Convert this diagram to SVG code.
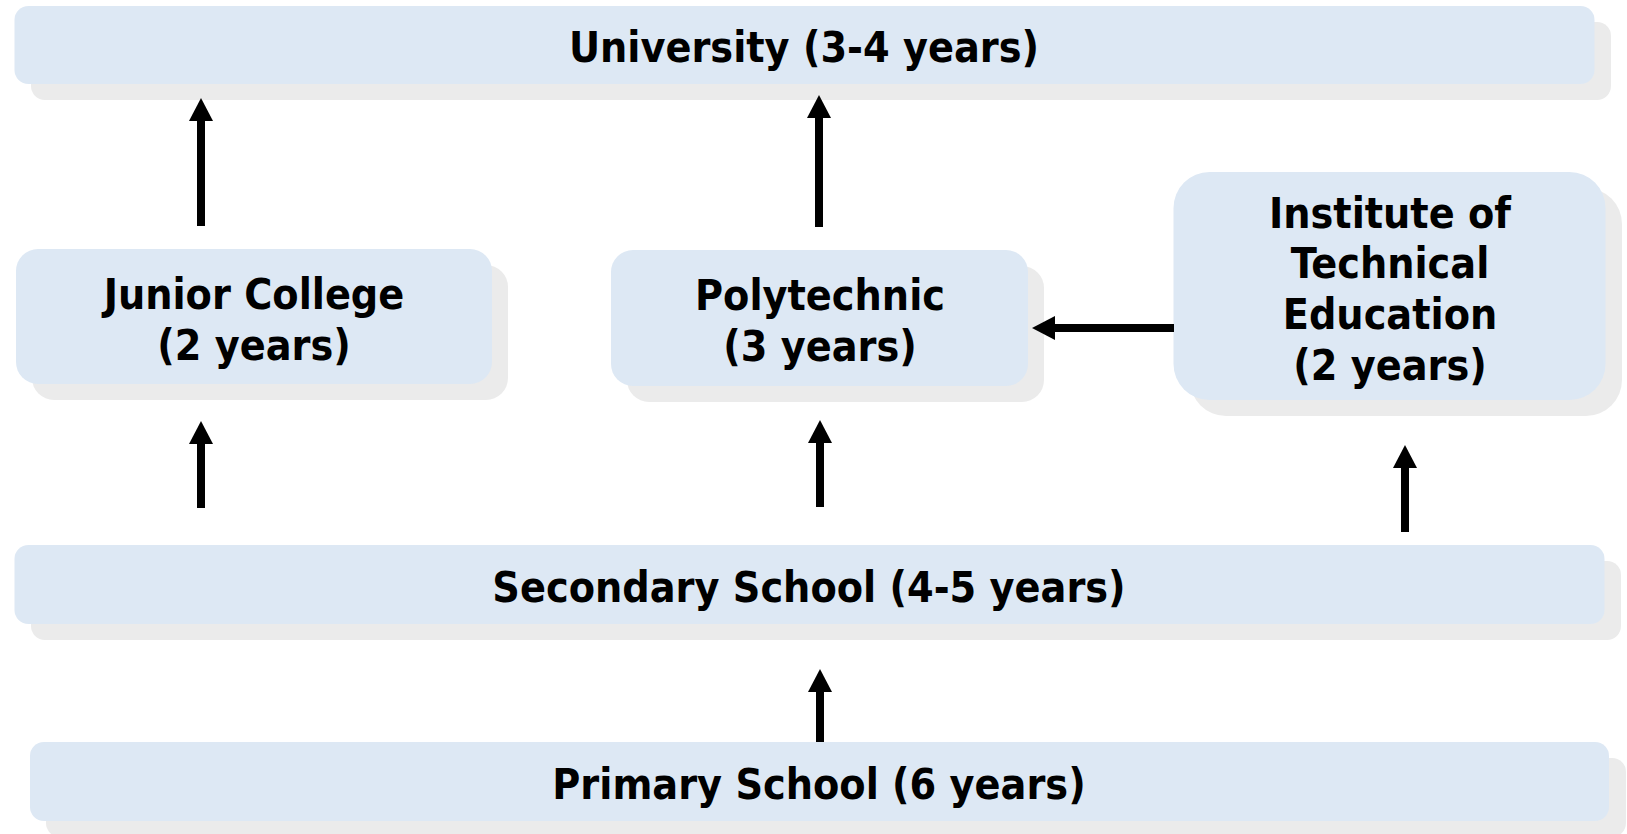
<svg xmlns="http://www.w3.org/2000/svg" width="1627" height="834" viewBox="0 0 1627 834">
<defs>
<style>
.box{fill:#dde8f4}
.sh{fill:#ebebeb}
.t{font-family:"DejaVu Sans Condensed","DejaVu Sans",Tahoma,sans-serif;font-stretch:condensed;font-weight:bold;font-size:42.6px;fill:#000;text-anchor:middle}
.c{stroke:#000;stroke-width:8;fill:none}
</style>
<marker id="ah" markerUnits="userSpaceOnUse" markerWidth="24" markerHeight="24" refX="0" refY="12" orient="auto" viewBox="0 0 24 24">
<path d="M0,0 L23,12 L0,24 z" fill="#000"/>
</marker>
</defs>
<rect width="1627" height="834" fill="#fff"/>
<g id="university">
<rect class="sh" x="31" y="22" width="1580" height="78" rx="14"/>
<rect class="box" x="14.5" y="6" width="1580" height="78" rx="14"/>
<text class="t" x="804" y="62">University (3-4 years)</text>
</g>
<g id="junior-college">
<rect class="sh" x="32" y="265" width="476" height="135" rx="22"/>
<rect class="box" x="16" y="249" width="476" height="135" rx="22"/>
<text class="t" x="254" y="309">Junior College</text>
<text class="t" x="254" y="360">(2 years)</text>
</g>
<g id="polytechnic">
<rect class="sh" x="627" y="266" width="417" height="136" rx="22"/>
<rect class="box" x="611" y="250" width="417" height="136" rx="22"/>
<text class="t" x="820" y="310">Polytechnic</text>
<text class="t" x="820" y="361">(3 years)</text>
</g>
<g id="ite">
<rect class="sh" x="1190" y="188" width="432" height="228" rx="36"/>
<rect class="box" x="1173.5" y="172" width="432" height="228" rx="36"/>
<text class="t" x="1390" y="228">Institute of</text>
<text class="t" x="1390" y="278">Technical</text>
<text class="t" x="1390" y="329">Education</text>
<text class="t" x="1390" y="380">(2 years)</text>
</g>
<g id="secondary">
<rect class="sh" x="31" y="561" width="1590" height="79" rx="14"/>
<rect class="box" x="14.5" y="545" width="1590" height="79" rx="14"/>
<text class="t" x="809" y="602">Secondary School (4-5 years)</text>
</g>
<g id="primary">
<rect class="sh" x="46" y="758" width="1580" height="79" rx="14"/>
<rect class="box" x="30" y="742" width="1579" height="79" rx="14"/>
<text class="t" x="819" y="799">Primary School (6 years)</text>
</g>
<g id="connectors">
<line class="c" x1="201" y1="226" x2="201" y2="121" marker-end="url(#ah)"/>
<line class="c" x1="819" y1="227" x2="819" y2="118" marker-end="url(#ah)"/>
<line class="c" x1="201" y1="508" x2="201" y2="444" marker-end="url(#ah)"/>
<line class="c" x1="820" y1="507" x2="820" y2="443" marker-end="url(#ah)"/>
<line class="c" x1="1405" y1="532" x2="1405" y2="468" marker-end="url(#ah)"/>
<line class="c" x1="820" y1="742" x2="820" y2="692" marker-end="url(#ah)"/>
<line class="c" x1="1174" y1="328" x2="1055" y2="328" marker-end="url(#ah)"/>
</g>
</svg>
